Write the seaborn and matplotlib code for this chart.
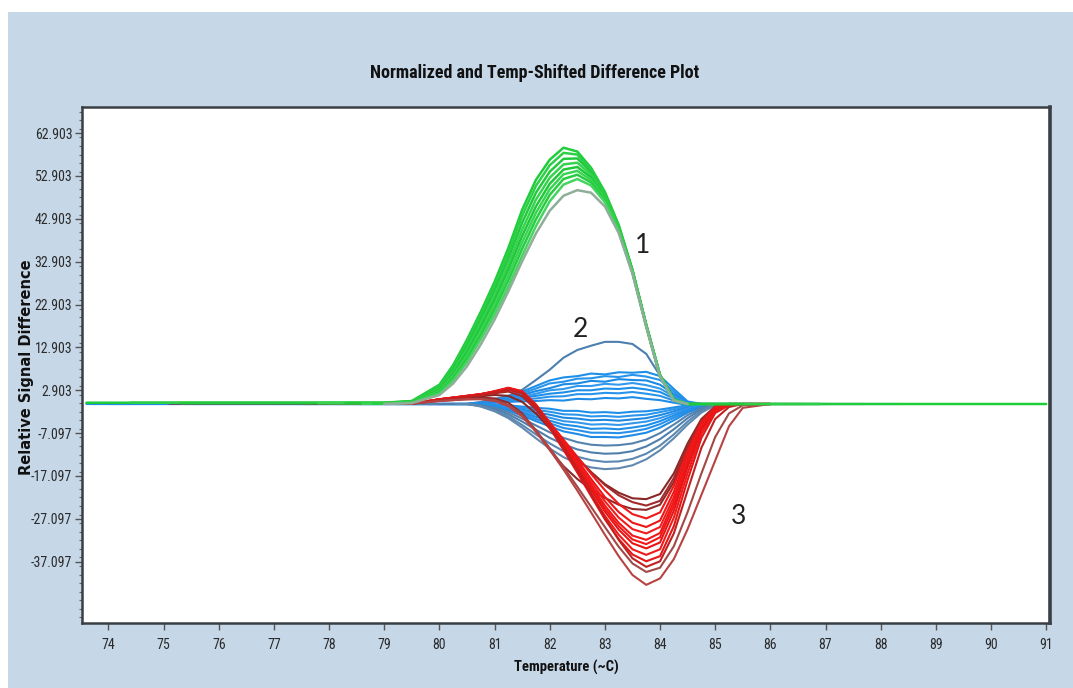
import numpy as np
import pandas as pd
import matplotlib
matplotlib.use("Agg")
import matplotlib.pyplot as plt
from matplotlib import font_manager
from matplotlib.patches import Rectangle
import seaborn as sns

# ---------------- data ----------------
green_temp = [79.0, 79.5, 80.0, 80.25, 80.5, 80.75, 81.0, 81.25, 81.5, 81.75, 82.0,
              82.25, 82.5, 82.75, 83.0, 83.25, 83.5, 83.75, 84.0, 84.25, 84.5]
green_curves = [
    [0.0, 0.4, 4.2, 8.8, 14.7, 21.2, 28.2, 36.1, 45.0, 52.0, 56.7, 59.5, 58.6, 54.8, 49.2, 41.5, 31.0, 18.2, 6.5, 0.7, -0.3],
    [0.0, 0.3, 3.9, 8.3, 14.0, 20.4, 27.3, 35.0, 43.6, 50.6, 55.4, 58.3, 57.9, 54.3, 48.9, 41.3, 30.9, 18.1, 6.4, 0.7, -0.3],
    [-0.1, 0.3, 3.6, 7.8, 13.2, 19.5, 26.2, 33.7, 42.0, 49.0, 53.9, 56.9, 57.0, 53.8, 48.6, 41.1, 30.8, 18.1, 6.4, 0.7, -0.3],
    [-0.1, 0.2, 3.3, 7.3, 12.5, 18.6, 25.1, 32.4, 40.4, 47.4, 52.5, 55.6, 56.0, 53.2, 48.3, 40.9, 30.7, 18.0, 6.3, 0.6, -0.3],
    [-0.1, 0.2, 3.0, 6.8, 11.8, 17.7, 24.0, 31.1, 38.9, 45.8, 51.1, 54.4, 55.0, 52.6, 48.0, 40.7, 30.6, 18.0, 6.3, 0.6, -0.3],
    [-0.2, 0.1, 2.7, 6.3, 11.0, 16.7, 22.9, 29.8, 37.4, 44.3, 49.8, 53.3, 54.1, 52.0, 47.6, 40.5, 30.5, 17.9, 6.2, 0.6, -0.3],
    [-0.2, 0.1, 2.4, 5.8, 10.3, 15.8, 21.8, 28.5, 35.9, 42.8, 48.5, 52.2, 53.2, 51.4, 47.2, 40.2, 30.4, 17.9, 6.2, 0.6, -0.3],
    [-0.2, 0.0, 2.1, 5.2, 9.5, 14.8, 20.6, 27.1, 34.3, 41.2, 47.0, 50.9, 52.2, 50.7, 46.8, 40.0, 30.3, 17.8, 6.1, 0.5, -0.3],
    [-0.3, -0.1, 1.8, 4.5, 8.5, 13.6, 19.4, 26.0, 33.0, 39.5, 44.8, 48.3, 49.6, 49.0, 45.8, 39.6, 30.1, 17.7, 6.1, 0.5, -0.3],
]
green_start = [73.6, 74.4, 75.3, 77.8, 78.3, 78.6, 78.8, 79.0, 79.0]
green_end = [91.0, 86.9, 85.5, 84.5, 84.5, 84.5, 84.5, 84.5, 84.5]

blue_temp = [80.5, 80.75, 81.0, 81.25, 81.5, 81.75, 82.0, 82.25, 82.5, 82.75,
             83.0, 83.25, 83.5, 83.75, 84.0, 84.25, 84.5, 84.75, 85.0]
blue_curves = [
    [-0.3, 0.2, 0.9, 1.6, 3.0, 5.3, 7.7, 10.5, 12.3, 13.3, 14.2, 14.2, 13.7, 11.4, 6.3, 1.4, -0.3, -0.3, -0.3],
    [-0.3, 0.0, 0.6, 1.4, 2.6, 3.9, 5.2, 5.9, 6.2, 6.8, 6.6, 7.1, 7.0, 7.2, 6.2, 3.2, 0.3, -0.3, -0.3],
    [-0.3, 0.0, 0.5, 1.2, 2.2, 3.3, 4.5, 4.9, 5.6, 5.7, 6.2, 6.0, 6.5, 6.1, 5.3, 2.6, 0.1, -0.3, -0.3],
    [-0.3, -0.1, 0.4, 1.0, 1.8, 2.7, 3.4, 4.3, 4.5, 5.1, 4.9, 5.5, 5.3, 5.2, 4.2, 2.0, -0.1, -0.3, -0.3],
    [-0.3, -0.1, 0.3, 0.8, 1.4, 2.1, 2.9, 3.2, 3.9, 3.9, 4.4, 4.2, 4.6, 4.1, 3.3, 1.5, -0.2, -0.3, -0.3],
    [-0.3, -0.1, 0.2, 0.6, 1.1, 1.6, 2.1, 2.4, 2.9, 2.9, 3.3, 3.2, 3.5, 3.1, 2.5, 1.0, -0.3, -0.3, -0.3],
    [-0.3, -0.2, 0.1, 0.4, 0.7, 1.0, 1.4, 1.5, 2.0, 2.0, 2.3, 2.2, 2.5, 2.1, 1.6, 0.5, -0.4, -0.3, -0.3],
    [-0.3, -0.2, 0.0, 0.2, 0.3, 0.4, 0.6, 0.5, 0.9, 0.8, 1.1, 1.0, 1.3, 0.9, 0.6, 0.0, -0.5, -0.3, -0.3],
    [-0.3, -0.3, -0.4, -0.6, -0.9, -1.2, -1.4, -1.9, -1.9, -2.3, -2.2, -2.4, -2.1, -2.0, -1.6, -1.1, -0.6, -0.3, -0.3],
    [-0.3, -0.3, -0.5, -0.8, -1.2, -1.7, -2.1, -2.7, -2.8, -3.2, -3.1, -3.3, -3.0, -2.8, -2.2, -1.5, -0.8, -0.4, -0.3],
    [-0.3, -0.4, -0.6, -1.0, -1.6, -2.3, -2.8, -3.5, -3.7, -4.1, -4.0, -4.2, -3.9, -3.6, -2.9, -2.0, -1.1, -0.5, -0.3],
    [-0.3, -0.4, -0.7, -1.2, -1.9, -2.8, -3.5, -4.3, -4.6, -5.1, -5.0, -5.2, -4.8, -4.4, -3.6, -2.5, -1.4, -0.6, -0.3],
    [-0.3, -0.4, -0.8, -1.4, -2.3, -3.3, -4.2, -5.1, -5.5, -6.1, -6.0, -6.2, -5.8, -5.3, -4.3, -3.0, -1.7, -0.7, -0.3],
    [-0.3, -0.5, -0.9, -1.6, -2.6, -3.8, -4.8, -5.9, -6.4, -7.0, -7.0, -7.1, -6.7, -6.1, -5.0, -3.5, -2.0, -0.8, -0.3],
    [-0.3, -0.5, -1.0, -1.8, -3.0, -4.3, -5.5, -6.7, -7.3, -8.0, -8.0, -8.1, -7.6, -7.0, -5.8, -4.1, -2.3, -0.9, -0.3],
    [-0.3, -0.6, -1.2, -2.2, -3.7, -5.3, -6.9, -8.2, -9.2, -9.8, -10.0, -9.9, -9.5, -8.6, -7.1, -5.1, -2.9, -1.2, -0.4],
    [-0.3, -0.7, -1.5, -2.7, -4.4, -6.3, -8.2, -9.7, -10.9, -11.6, -11.9, -11.8, -11.3, -10.2, -8.5, -6.2, -3.6, -1.5, -0.4],
    [-0.3, -0.8, -1.8, -3.2, -5.2, -7.4, -9.5, -11.3, -12.6, -13.4, -13.8, -13.7, -13.1, -11.9, -10.0, -7.4, -4.4, -1.9, -0.5],
    [-0.3, -0.9, -2.0, -3.6, -5.8, -8.3, -10.7, -12.7, -14.2, -15.1, -15.5, -15.3, -14.6, -13.2, -11.1, -8.3, -5.1, -2.3, -0.6],
]
blue_start = [79.8, 73.6, 74.0, 75.5, 77.0, 78.2, 78.5, 79.0, 79.2, 79.5,
              79.8, 80.0, 80.2, 80.5, 73.7, 77.5, 80.0, 80.3, 80.5]
blue_end = [85.0, 88.3, 87.0, 86.3, 85.8, 85.4, 85.0, 85.0, 85.0, 85.0,
            85.0, 85.0, 85.0, 85.0, 85.6, 85.0, 85.0, 85.0, 85.0]

red_temp = [79.5, 80.0, 80.5, 80.75, 81.0, 81.25, 81.5, 81.75, 82.0, 82.25, 82.5, 82.75,
            83.0, 83.25, 83.5, 83.75, 84.0, 84.25, 84.5, 84.75, 85.0, 85.25, 85.5, 86.0]
red_curves = [
    [-0.2, 0.6, 1.2, 1.5, 1.8, 1.6, 0.2, -2.5, -6.0, -9.6, -13.0, -16.2, -19.0, -21.0, -22.3, -22.5, -21.3, -16.5, -9.5, -3.8, -0.9, -0.3, -0.3, -0.3],
    [-0.2, 0.5, 1.0, 1.2, 1.0, 0.0, -2.5, -6.5, -11.0, -14.8, -17.8, -20.2, -22.2, -23.8, -24.8, -25.0, -23.8, -18.5, -10.5, -4.2, -1.0, -0.3, -0.3, -0.3],
    [-0.2, 0.7, 1.4, 1.8, 2.2, 2.6, 1.5, -1.6, -5.4, -9.2, -12.8, -16.2, -19.2, -21.6, -23.2, -24.0, -22.9, -17.6, -10.2, -4.0, -0.9, -0.3, -0.3, -0.3],
    [-0.2, 0.8, 1.5, 1.9, 2.4, 3.0, 2.2, -0.8, -4.6, -8.6, -12.6, -16.6, -20.4, -23.6, -26.0, -27.0, -25.6, -19.4, -11.3, -4.6, -1.1, -0.3, -0.3, -0.3],
    [-0.2, 0.8, 1.6, 2.0, 2.5, 3.2, 2.4, -0.7, -4.7, -9.0, -13.4, -17.8, -22.0, -25.5, -28.0, -29.0, -27.5, -20.8, -12.0, -4.8, -1.1, -0.3, -0.3, -0.3],
    [-0.2, 0.8, 1.6, 2.0, 2.6, 3.3, 2.5, -0.6, -4.8, -9.3, -13.9, -18.5, -23.0, -26.8, -29.5, -30.5, -29.0, -22.0, -12.8, -5.2, -1.2, -0.3, -0.3, -0.3],
    [-0.2, 0.8, 1.6, 2.0, 2.6, 3.4, 2.6, -0.5, -4.8, -9.5, -14.2, -19.2, -24.0, -28.0, -31.0, -32.0, -30.4, -23.0, -13.4, -5.5, -1.3, -0.4, -0.3, -0.3],
    [-0.2, 0.8, 1.6, 2.0, 2.7, 3.5, 2.7, -0.4, -4.8, -9.7, -14.6, -19.7, -24.7, -28.8, -31.9, -33.0, -31.4, -24.0, -14.2, -5.9, -1.5, -0.4, -0.3, -0.3],
    [-0.2, 0.7, 1.5, 1.9, 2.6, 3.4, 2.6, -0.6, -5.1, -10.1, -15.1, -20.3, -25.4, -29.6, -32.8, -34.0, -32.6, -25.2, -15.0, -6.4, -1.7, -0.4, -0.3, -0.3],
    [-0.2, 0.7, 1.5, 1.9, 2.6, 3.4, 2.5, -0.8, -5.4, -10.5, -15.7, -21.1, -26.4, -30.8, -34.2, -35.5, -34.2, -26.8, -16.4, -7.2, -2.0, -0.5, -0.3, -0.3],
    [-0.2, 0.6, 1.4, 1.8, 2.4, 3.1, 2.2, -1.2, -5.9, -11.0, -16.3, -21.8, -27.2, -31.8, -35.4, -37.0, -35.8, -28.8, -18.0, -8.2, -2.4, -0.6, -0.3, -0.3],
    [-0.2, 0.6, 1.4, 1.8, 2.4, 3.1, 2.3, -0.9, -5.4, -10.4, -15.6, -21.2, -26.8, -32.0, -36.3, -38.3, -37.0, -30.5, -20.5, -10.5, -3.8, -1.0, -0.3, -0.3],
    [-0.2, 0.4, 0.8, 0.9, 0.6, -0.5, -2.8, -6.4, -10.6, -15.0, -19.6, -24.3, -29.0, -33.6, -37.5, -39.5, -38.5, -33.5, -25.5, -16.5, -8.0, -2.5, -0.6, -0.3],
    [-0.2, 0.4, 0.8, 0.8, 0.4, -0.8, -3.2, -6.8, -11.0, -15.6, -20.5, -25.6, -30.8, -35.8, -40.2, -42.5, -41.0, -36.5, -29.5, -21.5, -13.5, -5.5, -1.2, -0.3],
]
red_start = [75.1, 77.7, 78.4, 79.0, 79.2, 79.3, 79.5, 79.5, 79.5, 79.5, 79.5, 79.5, 78.0, 79.5]
red_end = [87.7, 86.6, 86.0, 86.0, 86.0, 86.0, 86.0, 86.0, 86.0, 86.0, 86.0, 86.0, 86.0, 86.0]

y_ticks = [62.903, 52.903, 42.903, 32.903, 22.903, 12.903, 2.903, -7.097, -17.097, -27.097, -37.097]
y_tick_labels = ["62.903", "52.903", "42.903", "32.903", "22.903", "12.903", "2.903",
                 "-7.097", "-17.097", "-27.097", "-37.097"]
x_ticks = list(range(74, 92))
peak_labels = ["1", "2", "3"]
peak_label_x = [83.69, 82.55, 85.42]
peak_label_y = [36.8, 17.2, -26.5]

# ---------------- styles ----------------
green_colors = ["#1fcc3a", "#2bd046", "#22c93c", "#35d350", "#20c838", "#3ad455",
                "#27cc40", "#45d45e", "#8fae9a"]
blue_colors = ["#4c7fae", "#1e8fe8", "#2794ec", "#1b8ae4", "#3399ee", "#1e8fe8",
               "#2a93ea", "#1f8ce6", "#1e8fe8", "#2b95ec", "#1c8ae5", "#3498ec",
               "#1e8fe8", "#2891ea", "#1e8ce6", "#5583b0", "#4f80ad", "#5a88b3", "#6189b0"]
red_colors = ["#8a2626", "#8f2a2a", "#a02a2a", "#f01818", "#ee1515", "#f21c1c",
              "#ef1717", "#f01818", "#e81414", "#f01a1a", "#e41616", "#c02020",
              "#a24846", "#b84242"]


def pick_font(cands):
    names = {f.name for f in font_manager.fontManager.ttflist}
    for c in cands:
        if c in names:
            return c
    return "DejaVu Sans"


narrow = pick_font(["Liberation Sans Narrow", "DejaVu Sans Condensed", "Roboto Condensed",
                    "Liberation Sans"])
digits_font = pick_font(["Lato", "Open Sans", "DejaVu Sans"])


def build(group, temps, curves, starts, ends):
    rows = []
    for i, vals in enumerate(curves):
        name = f"{group}{i}"
        xs = list(temps)
        ys = list(vals)
        if starts[i] < temps[0]:
            xs = [starts[i]] + xs
            ys = [vals[0]] + ys
        if ends[i] > temps[-1]:
            xs = xs + [ends[i]]
            ys = ys + [vals[-1]]
        for x, y in zip(xs, ys):
            rows.append({"temp": x, "signal": y, "curve": name})
    return pd.DataFrame(rows)


df_green = build("g", green_temp, green_curves, green_start, green_end)
df_blue = build("b", blue_temp, blue_curves, blue_start, blue_end)
df_red = build("r", red_temp, red_curves, red_start, red_end)

sns.set_theme(style="white")
plt.rcParams["font.family"] = [narrow, "DejaVu Sans"]

W, H = 1073, 688
fig = plt.figure(figsize=(W / 100, H / 100), dpi=100)
fig.patch.set_facecolor("white")
fig.patches.append(Rectangle((8 / W, 0), 1 - 8 / W, 1 - 12 / H, transform=fig.transFigure,
                             facecolor="#c6d7e8", edgecolor="none", zorder=-10))

ax = fig.add_axes([82 / W, 1 - 623 / H, (1050 - 82) / W, (623 - 107) / H])
ax.set_facecolor("white")

sns.lineplot(data=df_blue, x="temp", y="signal", hue="curve",
             palette={f"b{i}": c for i, c in enumerate(blue_colors)},
             estimator=None, sort=False, legend=False, linewidth=1.5, ax=ax)
sns.lineplot(data=df_red, x="temp", y="signal", hue="curve",
             palette={f"r{i}": c for i, c in enumerate(red_colors)},
             estimator=None, sort=False, legend=False, linewidth=1.5, ax=ax)
sns.lineplot(data=df_green, x="temp", y="signal", hue="curve",
             palette={f"g{i}": c for i, c in enumerate(green_colors)},
             estimator=None, sort=False, legend=False, linewidth=1.8, ax=ax)

for s, x, y in zip(peak_labels, peak_label_x, peak_label_y):
    ax.text(x, y, s, fontsize=19, color="#222222", family=[digits_font, "DejaVu Sans"],
            ha="center", va="center")

ax.set_xlim(73.52, 91.07)
ax.set_ylim(-51.4, 69.0)
ax.set_xticks(x_ticks)
ax.set_xticklabels([str(t) for t in x_ticks])
ax.set_yticks(y_ticks)
ax.set_yticklabels(y_tick_labels)
ax.set_yticks(np.arange(-50.097, 68, 2.0), minor=True)
ax.tick_params(axis="both", which="major", direction="out", length=5, width=1,
               color="#555555", labelsize=10, labelcolor="#2a2a2a", pad=2,
               left=True, bottom=True)
ax.tick_params(axis="y", which="minor", direction="out", length=2.5, width=0.8,
               color="#666666", left=True)
ax.tick_params(axis="x", pad=6)
ax.set_xlabel("")
ax.set_ylabel("")
for side in ["left", "bottom", "top"]:
    ax.spines[side].set_color("#3a3f44")
    ax.spines[side].set_linewidth(1.8)
ax.spines["right"].set_color("#3a3f44")
ax.spines["right"].set_linewidth(2.6)

fig.text(535 / W, 1 - 73 / H, "Normalized and Temp-Shifted Difference Plot",
         ha="center", va="center", fontsize=13, fontweight="bold", color="#111111")
fig.text(566 / W, 1 - 667 / H, "Temperature (~C)", ha="center", va="center",
         fontsize=10.5, fontweight="bold", color="#111111")
fig.text(27 / W, 1 - 367 / H, "Relative Signal Difference", ha="center", va="center",
         rotation=90, fontsize=10.5, fontweight="bold", color="#111111",
         family=["DejaVu Sans"])

fig.savefig("out.png", dpi=100, facecolor=fig.get_facecolor())
